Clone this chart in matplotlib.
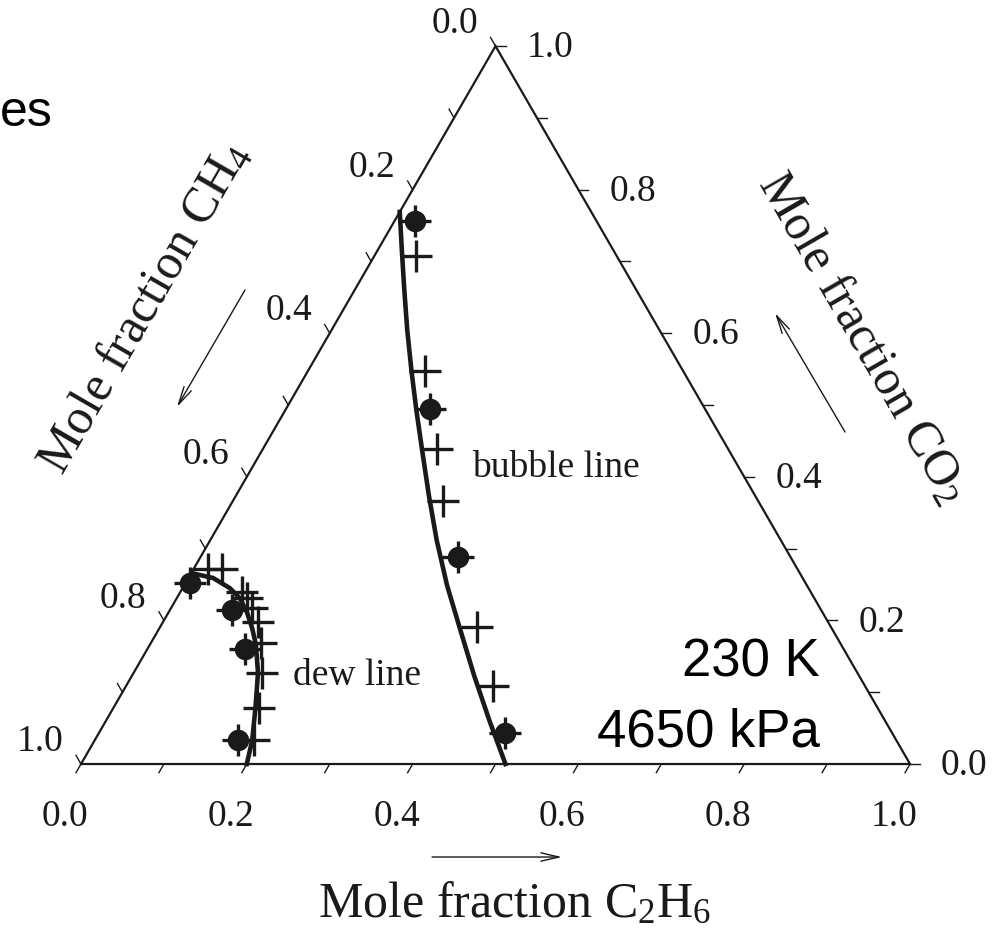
import numpy as np
import matplotlib
matplotlib.use("Agg")
import matplotlib.pyplot as plt

plt.rcParams['font.family'] = ['Liberation Serif', 'DejaVu Serif']
plt.rcParams['mathtext.fontset'] = 'custom'
plt.rcParams['mathtext.rm'] = 'Liberation Serif'
plt.rcParams['mathtext.it'] = 'Liberation Serif:italic'

# ---- data (mole fractions: C2H6, CO2; CH4 = 1 - C2H6 - CO2) ----
bubble_circ_c2h6 = [0.025, 0.174, 0.311, 0.490]
bubble_circ_co2 = [0.756, 0.495, 0.288, 0.043]
bubble_plus_c2h6 = [0.050, 0.141, 0.210, 0.254, 0.382, 0.443]
bubble_plus_co2 = [0.708, 0.547, 0.439, 0.366, 0.191, 0.109]
dew_circ_c2h6 = [0.005, 0.075, 0.118, 0.173]
dew_circ_co2 = [0.252, 0.215, 0.160, 0.033]
dew_plus_c2h6 = [0.017, 0.034, 0.074, 0.085, 0.098, 0.115, 0.133, 0.155, 0.176, 0.192]
dew_plus_co2 = [0.272, 0.272, 0.240, 0.231, 0.217, 0.198, 0.169, 0.127, 0.078, 0.033]
bubble_line_c2h6 = [0.000, 0.029, 0.060, 0.091, 0.124, 0.158, 0.193, 0.232, 0.273, 0.317, 0.364, 0.412, 0.462, 0.512]
bubble_line_co2 = [0.769, 0.716, 0.660, 0.605, 0.549, 0.493, 0.437, 0.375, 0.312, 0.249, 0.187, 0.124, 0.061, 0.000]
dew_line_c2h6 = [0.000, 0.030, 0.057, 0.076, 0.094, 0.112, 0.128, 0.150, 0.171, 0.190, 0.200]
dew_line_co2 = [0.266, 0.259, 0.245, 0.231, 0.212, 0.189, 0.166, 0.127, 0.079, 0.033, 0.000]
tick_values = [0.0, 0.1, 0.2, 0.3, 0.4, 0.5, 0.6, 0.7, 0.8, 0.9, 1.0]
label_values = [0.0, 0.2, 0.4, 0.6, 0.8, 1.0]

S3 = np.sqrt(3) / 2


def tern(c2h6, co2):
    a = np.asarray(c2h6, float)
    c = np.asarray(co2, float)
    return a + 0.5 * c, c * S3


fig = plt.figure(figsize=(9.96, 9.42), dpi=100)
ax = fig.add_axes([0, 0, 1, 1])
ax.set_xlim(-0.0977, 1.1037)
ax.set_ylim(-0.2147, 0.9216)
ax.axis('off')

INK = '#1a1a1a'

# triangle
tx, ty = tern([0, 1, 0, 0], [0, 0, 1, 0])
ax.plot(tx, ty, color=INK, lw=1.6, solid_joinstyle='miter', zorder=2)

PX = 1 / 829.0
tl = 10 * PX
for v in tick_values:
    x, y = tern(v, 0)
    ax.plot([x, x - 0.5 * tl], [y, y - S3 * tl], color=INK, lw=1.0)
    x, y = tern(1 - v, v)
    ax.plot([x, x + tl], [y, y], color=INK, lw=1.0)
    x, y = tern(0, 1 - v)
    ax.plot([x, x - 0.5 * tl], [y, y + S3 * tl], color=INK, lw=1.0)

fs_tick = 27
for v in label_values:
    x, y = tern(v, 0)
    ax.text(x - 16 * PX, y - 53 * PX, f"{v:.1f}", ha='center', va='center', fontsize=fs_tick, color=INK)
    x, y = tern(1 - v, v)
    ax.text(x + 31 * PX, y - 2 * PX, f"{v:.1f}", ha='left', va='center', fontsize=fs_tick, color=INK)
    x, y = tern(0, 1 - v)
    ax.text(x - 41 * PX, y + 22 * PX, f"{v:.1f}", ha='center', va='center', fontsize=fs_tick, color=INK)

# curves
x, y = tern(bubble_line_c2h6, bubble_line_co2)
ax.plot(x, y, color=INK, lw=3.3, zorder=3, solid_joinstyle='round')
x, y = tern(dew_line_c2h6, dew_line_co2)
ax.plot(x, y, color=INK, lw=3.3, zorder=3, solid_joinstyle='round')

# points
for cx, cy in [(bubble_plus_c2h6, bubble_plus_co2), (dew_plus_c2h6, dew_plus_co2)]:
    x, y = tern(cx, cy)
    ax.plot(x, y, ls='none', marker='+', ms=23, mew=2.4, color=INK, zorder=4)
for cx, cy in [(bubble_circ_c2h6, bubble_circ_co2), (dew_circ_c2h6, dew_circ_co2)]:
    x, y = tern(cx, cy)
    ax.plot(x, y, ls='none', marker='+', ms=23, mew=2.4, color=INK, zorder=4)
    ax.plot(x, y, ls='none', marker='o', ms=15.5, mew=0, color=INK, zorder=5)

# annotations
ax.text((472 - 81) * PX, (764 - 468) * PX, 'bubble line', ha='left', va='center', fontsize=27, color=INK)
ax.text((293 - 81) * PX, (764 - 676) * PX, 'dew line', ha='left', va='center', fontsize=27, color=INK)
ax.text((820 - 81) * PX, (764 - 662) * PX, '230 K', ha='right', va='center', fontsize=38,
        family=['Liberation Sans', 'DejaVu Sans'], color='black')
ax.text((820 - 81) * PX, (764 - 732) * PX, '4650 kPa', ha='right', va='center', fontsize=38,
        family=['Liberation Sans', 'DejaVu Sans'], color='black')
ax.text(-0.0977, (764 - 113) * PX, 'es', ha='left', va='center', fontsize=36,
        family=['Liberation Sans', 'DejaVu Sans'], color='black')

# axis titles
ax.text((515 - 81) * PX, (764 - 905) * PX, 'Mole fraction C$_2$H$_6$', ha='center', va='center',
        fontsize=36, color=INK)
ax.text((145 - 81) * PX, (764 - 308) * PX, 'Mole fraction CH$_4$', ha='center', va='center',
        fontsize=36, rotation=60, rotation_mode='anchor', color=INK)
ax.text((862 - 81) * PX, (764 - 338) * PX, 'Mole fraction CO$_2$', ha='center', va='center',
        fontsize=36, rotation=-60, rotation_mode='anchor', color=INK)

# arrows
def px(p):
    return ((p[0] - 81) * PX, (764 - p[1]) * PX)

arrow_kw = dict(arrowstyle='->,head_length=1.3,head_width=0.3', color=INK, lw=1.0,
                shrinkA=0, shrinkB=0)
ax.annotate('', xy=px((562, 857)), xytext=px((432, 857)), arrowprops=arrow_kw)
ax.annotate('', xy=px((177, 407)), xytext=px((245, 290)), arrowprops=arrow_kw)
ax.annotate('', xy=px((775, 313)), xytext=px((845, 432)), arrowprops=arrow_kw)

fig.savefig('out.png', dpi=100, facecolor='white')
